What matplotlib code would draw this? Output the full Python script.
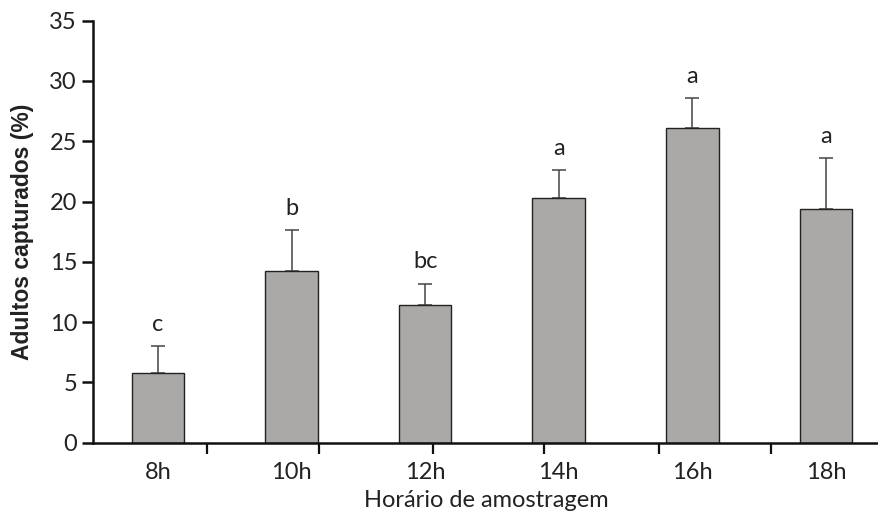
import matplotlib
matplotlib.use("Agg")
import matplotlib.pyplot as plt
import numpy as np

# ---- data ----
categories = ["8h", "10h", "12h", "14h", "16h", "18h"]
means = [5.8, 14.2, 11.4, 20.3, 26.1, 19.4]
err_up = [2.2, 3.4, 1.8, 2.3, 2.5, 4.2]
letters = ["c", "b", "bc", "a", "a", "a"]
y_ticks = [0, 5, 10, 15, 20, 25, 30, 35]

# separator tick marks on the x axis (as drawn in the original, in category units)
sep_ticks = [0.367, 1.205, 2.055, 2.89, 3.75, 4.59]

TXT = "#222222"
FONT = ["Lato", "DejaVu Sans"]
FS = 17

W, H = 879, 514
fig = plt.figure(figsize=(W / 100, H / 100), dpi=100)
left, right, bottom, top = 93, 879, 442.7, 20.7
ax = fig.add_axes([left / W, 1 - bottom / H, (right - left) / W, (bottom - top) / H])

x = np.arange(len(categories))
ax.bar(x, means, width=0.394, color="#aaa9a7", edgecolor="#222222", linewidth=1.0, zorder=2)
ax.errorbar(x, means, yerr=[np.zeros(len(means)), err_up], fmt="none",
            ecolor="#444444", elinewidth=1.1, capsize=5, capthick=1.1, zorder=1)

for xi, m, e, lab in zip(x, means, err_up, letters):
    ax.annotate(lab, (xi, m + e), xytext=(0, 8), textcoords="offset points",
                ha="center", va="bottom", fontsize=FS, color=TXT, family=FONT)

ax.set_xlim(-0.487, 5.398)
ax.set_ylim(0, 35)

for s in ["top", "right"]:
    ax.spines[s].set_visible(False)
for s in ["left", "bottom"]:
    ax.spines[s].set_linewidth(1.8)
    ax.spines[s].set_color("#111111")

ax.set_yticks(y_ticks)
ax.set_yticklabels([str(v) for v in y_ticks], fontsize=FS, color=TXT, family=FONT)
ax.tick_params(axis="y", direction="out", length=8, width=1.8, pad=3.5, color="#111111")

ax.set_xticks(x)
ax.set_xticklabels(categories, fontsize=FS, color=TXT, family=FONT)
ax.tick_params(axis="x", which="major", length=0, pad=14)
ax.set_xticks(sep_ticks, minor=True)
ax.tick_params(axis="x", which="minor", direction="out", length=8, width=1.6, color="#111111")

ax.set_xlabel("Horário de amostragem", fontsize=FS, color=TXT, family=FONT, labelpad=5)
ax.set_ylabel("Adultos capturados (%)", fontsize=16.5, fontweight="bold", color=TXT,
              family=["Liberation Sans", "DejaVu Sans"], labelpad=11)

fig.savefig("out.png", dpi=100)
